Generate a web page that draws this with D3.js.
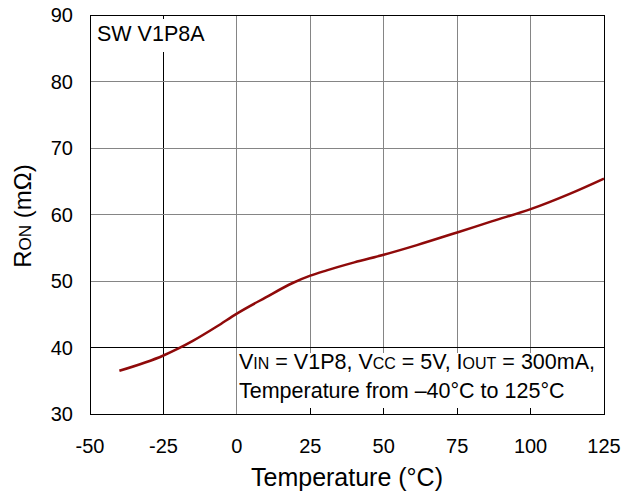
<!DOCTYPE html>
<html>
<head>
<meta charset="utf-8">
<script src="https://cdn.jsdelivr.net/npm/d3@7"></script>
<style>
html,body{margin:0;padding:0;background:#fff;}
text{font-family:"Liberation Sans",Arial,sans-serif;fill:#000;}
</style>
</head>
<body>
<svg id="chart" width="623" height="492"></svg>
<script>
// ---- data ----
const temperature = [-40, -25, -19.7, -15, -6.7, 0, 9.7, 19, 25, 30.6, 40, 50, 61.3, 75, 87, 100, 113.3, 125];
const ron         = [36.5, 38.8, 39.9, 41.0, 43.2, 45.1, 47.5, 49.7, 50.8, 51.6, 52.8, 53.95, 55.4, 57.3, 59.0, 60.8, 63.1, 65.4];
const xTicks = [-50, -25, 0, 25, 50, 75, 100, 125];
const yTicks = [30, 40, 50, 60, 70, 80, 90];

const svg = d3.select("#chart");
const L = 90, R = 604, T = 15, B = 414;
const x = d3.scaleLinear().domain([-50, 125]).range([L, R]);
const y = d3.scaleLinear().domain([30, 90]).range([B, T]);

const grey = "#858585";
// gridlines
svg.append("g").selectAll("line").data(xTicks.slice(1, -1)).join("line")
  .attr("x1", d => x(d)).attr("x2", d => x(d)).attr("y1", T).attr("y2", B)
  .attr("stroke", d => d === -25 ? "#000" : grey).attr("stroke-width", 1)
  .attr("shape-rendering", "crispEdges");
svg.append("g").selectAll("line").data(yTicks.slice(1, -1)).join("line")
  .attr("x1", L).attr("x2", R).attr("y1", d => y(d)).attr("y2", d => y(d))
  .attr("stroke", d => d === 40 ? "#000" : grey).attr("stroke-width", 1)
  .attr("shape-rendering", "crispEdges");

// curve
const line = d3.line().x((d, i) => x(temperature[i])).y(d => y(d)).curve(d3.curveMonotoneX);
svg.append("path").datum(ron).attr("d", line)
  .attr("fill", "none").attr("stroke", "#8f0a0a").attr("stroke-width", 2.5);

// annotation box (covers grid)
svg.append("rect").attr("x", x(0) + 0.5).attr("y", y(40) + 1).attr("width", R - x(0) - 1).attr("height", B - y(40) - 2)
  .attr("fill", "#fff");
svg.append("g").selectAll("line").data([25, 50, 75, 100]).join("line")
  .attr("x1", d => x(d)).attr("x2", d => x(d)).attr("y1", y(40)).attr("y2", y(40) + 5)
  .attr("stroke", grey).attr("shape-rendering", "crispEdges");
svg.append("g").selectAll("line").data([25, 50, 75, 100]).join("line")
  .attr("x1", d => x(d)).attr("x2", d => x(d)).attr("y1", B - 6).attr("y2", B)
  .attr("stroke", "#000").attr("shape-rendering", "crispEdges");

// SW label box
svg.append("rect").attr("x", L + 1).attr("y", 19).attr("width", 122).attr("height", 33).attr("fill", "#fff");
svg.append("g").selectAll("line").data([90, 80]).join("line")
  .attr("x1", x(-25)).attr("x2", x(-25) + 6).attr("y1", d => y(d)).attr("y2", d => y(d))
  .attr("stroke", grey).attr("shape-rendering", "crispEdges");
svg.append("text").attr("x", 97).attr("y", 41).attr("font-size", 21.5).text("SW V1P8A");

// frame
svg.append("rect").attr("x", L).attr("y", T).attr("width", R - L).attr("height", B - T)
  .attr("fill", "none").attr("stroke", "#000").attr("shape-rendering", "crispEdges");

// axes labels
svg.append("g").selectAll("text").data(yTicks).join("text")
  .attr("x", 73).attr("y", d => y(d)).attr("dy", "0.36em").attr("text-anchor", "end")
  .attr("font-size", 20).text(d => d);
svg.append("g").selectAll("text").data(xTicks).join("text")
  .attr("x", d => x(d)).attr("y", 453).attr("text-anchor", "middle")
  .attr("font-size", 20).text(d => d);

svg.append("text").attr("x", 347).attr("y", 486).attr("text-anchor", "middle")
  .attr("font-size", 25).text("Temperature (°C)");

const yt = svg.append("text").attr("transform", "translate(31,216) rotate(-90)")
  .attr("text-anchor", "middle").attr("font-size", 24);
yt.append("tspan").text("R");
yt.append("tspan").attr("font-size", 17).text("ON");
yt.append("tspan").text(" (mΩ)");

// annotation text
const a1 = svg.append("text").attr("x", 239).attr("y", 369).attr("font-size", 21.5);
a1.append("tspan").text("V");
a1.append("tspan").attr("font-size", 16).text("IN");
a1.append("tspan").text(" = V1P8, V");
a1.append("tspan").attr("font-size", 16).text("CC");
a1.append("tspan").text(" = 5V, I");
a1.append("tspan").attr("font-size", 16).text("OUT");
a1.append("tspan").text(" = 300mA,");
svg.append("text").attr("x", 239).attr("y", 398).attr("font-size", 21.5)
  .text("Temperature from \u201340°C to 125°C");
</script>
</body>
</html>
